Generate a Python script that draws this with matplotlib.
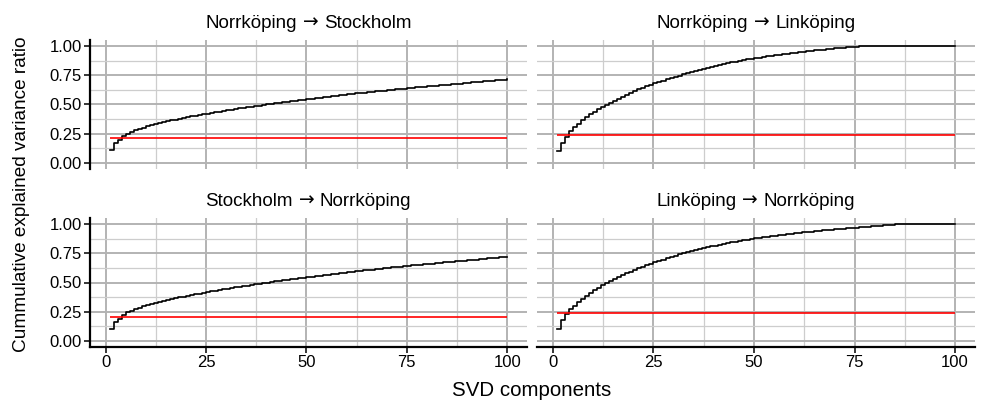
import numpy as np
import matplotlib
matplotlib.use("Agg")
import matplotlib.pyplot as plt
from matplotlib.ticker import MultipleLocator
from matplotlib.offsetbox import TextArea, HPacker, AnchoredOffsetbox

plt.rcParams['font.family'] = ['Liberation Sans', 'DejaVu Sans']

# SVD components 1..100
components = np.arange(1, 101)

# facet titles as (from, to)
routes = [("Norrköping", "Stockholm"), ("Norrköping", "Linköping"),
          ("Stockholm", "Norrköping"), ("Linköping", "Norrköping")]

# cumulative explained variance ratio
norr_sthlm = [
    0.110, 0.168, 0.200, 0.232, 0.252, 0.267, 0.280, 0.292, 0.303, 0.313,
    0.322, 0.331, 0.340, 0.348, 0.356, 0.364, 0.371, 0.378, 0.385, 0.392,
    0.398, 0.404, 0.410, 0.416, 0.422, 0.428, 0.434, 0.439, 0.445, 0.450,
    0.456, 0.461, 0.466, 0.471, 0.476, 0.481, 0.486, 0.491, 0.496, 0.501,
    0.506, 0.510, 0.515, 0.520, 0.524, 0.529, 0.533, 0.538, 0.542, 0.546,
    0.550, 0.554, 0.558, 0.562, 0.566, 0.570, 0.574, 0.578, 0.582, 0.586,
    0.590, 0.594, 0.597, 0.601, 0.605, 0.608, 0.612, 0.615, 0.619, 0.622,
    0.626, 0.629, 0.633, 0.636, 0.639, 0.643, 0.646, 0.649, 0.652, 0.655,
    0.658, 0.661, 0.664, 0.667, 0.670, 0.673, 0.676, 0.679, 0.682, 0.685,
    0.688, 0.691, 0.694, 0.697, 0.700, 0.703, 0.706, 0.709, 0.712, 0.715,
]
norr_link = [
    0.103, 0.168, 0.222, 0.270, 0.305, 0.337, 0.365, 0.391, 0.415, 0.437,
    0.458, 0.478, 0.497, 0.516, 0.534, 0.551, 0.568, 0.584, 0.599, 0.614,
    0.628, 0.642, 0.655, 0.668, 0.680, 0.692, 0.703, 0.714, 0.725, 0.735,
    0.746, 0.757, 0.767, 0.777, 0.787, 0.796, 0.805, 0.814, 0.822, 0.830,
    0.838, 0.845, 0.852, 0.859, 0.866, 0.872, 0.878, 0.884, 0.890, 0.895,
    0.900, 0.905, 0.910, 0.915, 0.920, 0.925, 0.929, 0.933, 0.937, 0.941,
    0.945, 0.949, 0.953, 0.957, 0.961, 0.964, 0.968, 0.971, 0.975, 0.978,
    0.981, 0.984, 0.987, 0.990, 0.993, 0.996, 0.999, 1.000, 1.000, 1.000,
    1.000, 1.000, 1.000, 1.000, 1.000, 1.000, 1.000, 1.000, 1.000, 1.000,
    1.000, 1.000, 1.000, 1.000, 1.000, 1.000, 1.000, 1.000, 1.000, 1.000,
]
sthlm_norr = [
    0.100, 0.160, 0.192, 0.225, 0.245, 0.260, 0.273, 0.285, 0.296, 0.306,
    0.316, 0.325, 0.334, 0.342, 0.350, 0.358, 0.366, 0.373, 0.380, 0.387,
    0.394, 0.400, 0.406, 0.412, 0.418, 0.424, 0.430, 0.436, 0.442, 0.447,
    0.453, 0.458, 0.464, 0.469, 0.474, 0.479, 0.484, 0.489, 0.494, 0.499,
    0.504, 0.509, 0.514, 0.518, 0.523, 0.528, 0.532, 0.537, 0.541, 0.546,
    0.550, 0.554, 0.559, 0.563, 0.567, 0.571, 0.575, 0.579, 0.583, 0.587,
    0.591, 0.595, 0.599, 0.603, 0.606, 0.610, 0.614, 0.617, 0.621, 0.625,
    0.628, 0.632, 0.635, 0.639, 0.642, 0.646, 0.649, 0.652, 0.656, 0.659,
    0.662, 0.665, 0.669, 0.672, 0.675, 0.678, 0.681, 0.684, 0.687, 0.690,
    0.693, 0.696, 0.699, 0.702, 0.705, 0.708, 0.711, 0.714, 0.717, 0.720,
]
link_norr = [
    0.100, 0.178, 0.228, 0.270, 0.303, 0.333, 0.361, 0.387, 0.411, 0.434,
    0.455, 0.475, 0.494, 0.512, 0.529, 0.546, 0.562, 0.577, 0.592, 0.606,
    0.620, 0.634, 0.647, 0.660, 0.672, 0.684, 0.696, 0.707, 0.718, 0.729,
    0.739, 0.749, 0.758, 0.767, 0.776, 0.785, 0.793, 0.801, 0.808, 0.815,
    0.822, 0.829, 0.836, 0.842, 0.848, 0.854, 0.860, 0.866, 0.871, 0.876,
    0.881, 0.886, 0.891, 0.895, 0.899, 0.903, 0.907, 0.911, 0.915, 0.919,
    0.923, 0.927, 0.930, 0.934, 0.937, 0.941, 0.944, 0.947, 0.950, 0.953,
    0.956, 0.959, 0.962, 0.965, 0.968, 0.971, 0.974, 0.977, 0.980, 0.982,
    0.985, 0.988, 0.990, 0.993, 0.995, 0.998, 1.000, 1.000, 1.000, 1.000,
    1.000, 1.000, 1.000, 1.000, 1.000, 1.000, 1.000, 1.000, 1.000, 1.000,
]
series = [norr_sthlm, norr_link, sthlm_norr, link_norr]

# red reference level per panel
thresholds = [0.217, 0.240, 0.203, 0.237]

W, H = 981, 407
fig = plt.figure(figsize=(W / 100, H / 100), dpi=100)

# panel boxes in pixels: left, top, right, bottom
boxes = [(90, 40, 527, 169), (537, 40, 975, 169),
         (90, 218, 527, 347), (537, 218, 975, 347)]

for i, (l, t, r, b) in enumerate(boxes):
    ax = fig.add_axes([l / W, 1 - b / H, (r - l) / W, (b - t) / H])
    ax.set_xlim(-3.95, 104.95)
    ax.set_ylim(-0.05, 1.05)

    ax.xaxis.set_major_locator(MultipleLocator(25))
    ax.xaxis.set_minor_locator(MultipleLocator(12.5))
    ax.yaxis.set_major_locator(MultipleLocator(0.25))
    ax.yaxis.set_minor_locator(MultipleLocator(0.125))
    ax.grid(which='major', color='#b3b3b3', lw=1.4)
    ax.grid(which='minor', color='#cdcdcd', lw=0.9)
    ax.set_axisbelow(True)

    for s in ax.spines.values():
        s.set_visible(False)

    left_col = i % 2 == 0
    bottom_row = i >= 2
    ax.tick_params(which='minor', length=0)
    ax.tick_params(which='major', length=4, width=1.1, color='black',
                   labelsize=12, pad=2, labelcolor='black')
    if left_col:
        ax.spines['left'].set_visible(True)
        ax.spines['left'].set_linewidth(1.6)
        ax.yaxis.set_major_formatter(plt.FuncFormatter(lambda v, p: f"{v:.2f}"))
    else:
        ax.tick_params(axis='y', which='major', length=0, labelleft=False)
    if bottom_row:
        ax.spines['bottom'].set_visible(True)
        ax.spines['bottom'].set_linewidth(1.6)
    else:
        ax.tick_params(axis='x', which='major', length=0, labelbottom=False)

    ax.plot(components, series[i], drawstyle='steps-post', color='black', lw=1.2)
    ax.hlines(thresholds[i], components[0], components[-1], color='red', lw=1.2)

    # strip title with a longer arrow glyph
    src, dst = routes[i]
    tp = dict(fontsize=13.5, color='black')
    parts = [TextArea(src, textprops=tp),
             TextArea("→", textprops=dict(tp, family='DejaVu Sans')),
             TextArea(dst, textprops=tp)]
    box = HPacker(children=parts, align='baseline', pad=0, sep=4)
    anchored = AnchoredOffsetbox(loc='lower center', child=box, pad=0, borderpad=0.6,
                                 frameon=False, bbox_to_anchor=(0.5, 1.0),
                                 bbox_transform=ax.transAxes)
    ax.add_artist(anchored)

fig.text(532 / W, 1 - 391 / H, "SVD components", ha='center', va='center', fontsize=14.8)
fig.text(22 / W, 1 - 194 / H, "Cummulative explained variance ratio", ha='center',
         va='center', rotation=90, fontsize=13.7)

fig.savefig("out.png", dpi=100)
